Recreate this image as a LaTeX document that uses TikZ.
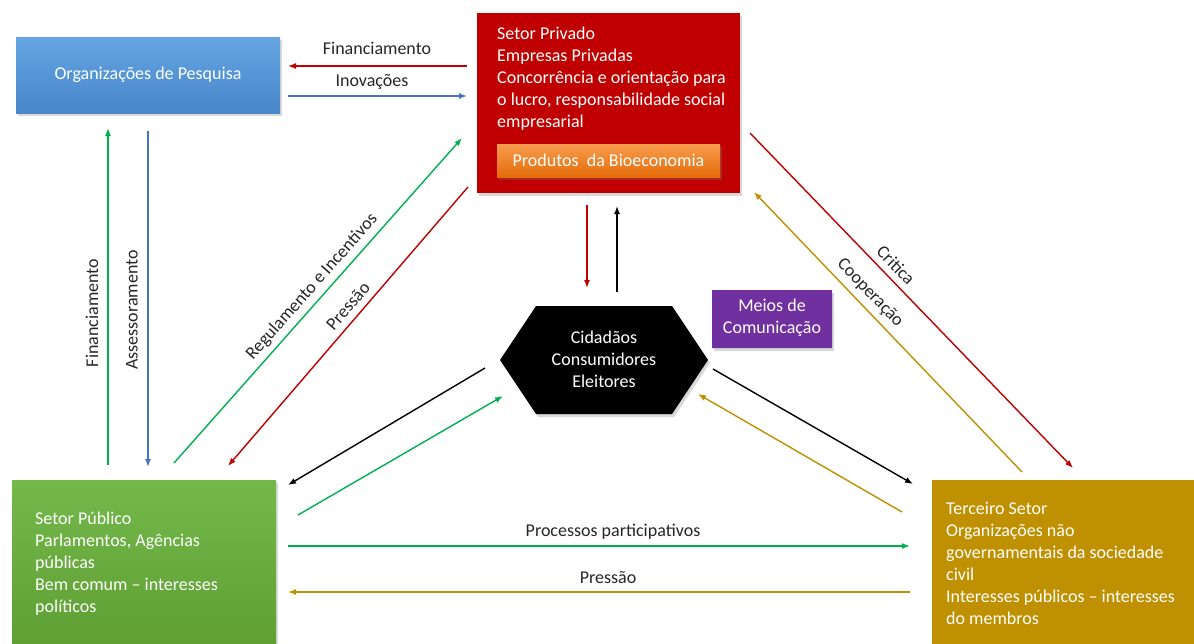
\documentclass[tikz,border=0pt]{standalone}
\usepackage{fontspec}
\setmainfont{Carlito}
\usetikzlibrary{arrows.meta,shadows,shapes.misc}

\definecolor{cred}{HTML}{C00000}
\definecolor{cgreen}{HTML}{00B050}
\definecolor{cblue}{HTML}{4472C4}
\definecolor{cgold}{HTML}{BF9000}
\definecolor{cpurple}{HTML}{7030A0}
\definecolor{lblc}{HTML}{262626}
\definecolor{bluetop}{HTML}{64A5E2}
\definecolor{bluebot}{HTML}{4986CA}
\definecolor{greentop}{HTML}{74B84A}
\definecolor{greenbot}{HTML}{5E9E34}
\definecolor{orangetop}{HTML}{F89C4E}
\definecolor{orangebot}{HTML}{E46C0A}

\begin{document}
\begin{tikzpicture}[x=1pt,y=-1pt,
  box/.style={draw=none, inner sep=0, rectangle,
    drop shadow={opacity=0.3, shadow xshift=2pt, shadow yshift=-3pt}},
  txt/.style={font=\fontsize{18}{22}\selectfont, text=white, inner sep=0, align=left},
  ctxt/.style={font=\fontsize{18}{22}\selectfont, text=white, align=center},
  lbl/.style={font=\fontsize{18}{22}\selectfont, text=lblc, inner sep=0},
  arr/.style={line width=1.4pt, -{Latex[length=8pt,width=6pt]}}]
\useasboundingbox (0,0) rectangle (1194,643);

% ---- boxes ----
\node[box, top color=bluetop, bottom color=bluebot, minimum width=264pt, minimum height=76pt,
      font=\fontsize{18}{22}\selectfont, text=white] (pesq) at (148,75) {Organizações de Pesquisa};

\node[box, fill=cred, minimum width=263pt, minimum height=180pt] (priv) at (608.5,103) {};
\node[txt, anchor=north west] (privtxt) at (497,27)
  {Setor Privado\\Empresas Privadas\\Concorrência e orientação para\\o lucro, responsabilidade social\\empresarial};
\node[box, top color=orangetop, bottom color=orangebot, minimum width=223pt, minimum height=33pt,
      font=\fontsize{18}{22}\selectfont, text=white] (prod) at (608.5,160.5) {Produtos~~da Bioeconomia};

\node[box, top color=greentop, bottom color=greenbot, minimum width=264pt, minimum height=172pt] (pub) at (144,566) {};
\node[txt, anchor=north west] (pubtxt) at (35,512)
  {Setor Público\\Parlamentos, Agências\\públicas\\Bem comum – interesses\\políticos};

\node[box, fill=cgold, minimum width=270pt, minimum height=172pt] (terc) at (1067,566) {};
\node[txt, anchor=north west] (terctxt) at (946,502)
  {Terceiro Setor\\Organizações não\\governamentais da sociedade\\civil\\Interesses públicos – interesses\\do membros};

\node[chamfered rectangle, chamfered rectangle corners={north east,north west},
      chamfered rectangle xsep=3pt, chamfered rectangle ysep=3pt,
      fill=cpurple, inner sep=0, minimum width=120pt, minimum height=58pt,
      drop shadow={opacity=0.3, shadow xshift=2pt, shadow yshift=-3pt}] (media) at (772,319) {};
\node[ctxt, inner sep=0] (mediatxt) at (772,318) {Meios de\\Comunicação};

% hexagon
\fill[black, drop shadow={opacity=0.3, shadow xshift=2pt, shadow yshift=-3pt}]
  (500,360) -- (536,306) -- (672,306) -- (708,360) -- (672,414) -- (536,414) -- cycle;
\node[ctxt, inner sep=0] (cid) at (604,359) {Cidadãos\\Consumidores\\Eleitores};

% ---- connector ends ----
\coordinate (a1s) at (467,66);   \coordinate (a1e) at (288,66);
\coordinate (a2s) at (288,96);   \coordinate (a2e) at (467,96);
\coordinate (a3s) at (108,465);  \coordinate (a3e) at (108,128);
\coordinate (a4s) at (148,131);  \coordinate (a4e) at (148,467);
\coordinate (a5s) at (174,463);  \coordinate (a5e) at (462,138);
\coordinate (a6s) at (468,187);  \coordinate (a6e) at (228,466);
\coordinate (a7s) at (485,368);  \coordinate (a7e) at (288,485);
\coordinate (a8s) at (298,515);  \coordinate (a8e) at (503,396);
\coordinate (a9s) at (587,205);  \coordinate (a9e) at (587,288);
\coordinate (a10s) at (617,292); \coordinate (a10e) at (617,206);
\coordinate (a11s) at (750,133); \coordinate (a11e) at (1073,468);
\coordinate (a12s) at (1022,472);\coordinate (a12e) at (754,192);
\coordinate (a13s) at (713,369); \coordinate (a13e) at (913,484);
\coordinate (a14s) at (902,512); \coordinate (a14e) at (698,394);
\coordinate (a15s) at (288,546); \coordinate (a15e) at (910,546);
\coordinate (a16s) at (910,592); \coordinate (a16e) at (288,592);

% ---- connectors ----
\draw[arr, cred]   (a1s) -- (a1e);
\draw[arr, cblue]  (a2s) -- (a2e);
\draw[arr, cgreen] (a3s) -- (a3e);
\draw[arr, cblue]  (a4s) -- (a4e);
\draw[arr, cgreen] (a5s) -- (a5e);
\draw[arr, cred]   (a6s) -- (a6e);
\draw[arr, black]  (a7s) -- (a7e);
\draw[arr, cgreen] (a8s) -- (a8e);
\draw[arr, cred]   (a9s) -- (a9e);
\draw[arr, black]  (a10s) -- (a10e);
\draw[arr, cred]   (a11s) -- (a11e);
\draw[arr, cgold]  (a12s) -- (a12e);
\draw[arr, black]  (a13s) -- (a13e);
\draw[arr, cgold]  (a14s) -- (a14e);
\draw[arr, cgreen] (a15s) -- (a15e);
\draw[arr, cgold]  (a16s) -- (a16e);

% ---- connector labels ----
\node[lbl] (l1) at (377,48) {Financiamento};
\node[lbl] (l2) at (372,82) {Inovações};
\node[lbl, rotate=90] (l3) at (92,313) {Financiamento};
\node[lbl, rotate=90] (l4) at (132,310) {Assessoramento};
\node[lbl, rotate=48.5] (l5) at (312,287) {Regulamento e Incentivos};
\node[lbl, rotate=49] (l6) at (348,306) {Pressão};
\node[lbl, rotate=-46] (l7) at (896,265) {Critica};
\node[lbl, rotate=-46] (l8) at (870,293) {Cooperação};
\node[lbl] (l9) at (613,532) {Processos participativos};
\node[lbl] (l10) at (608,578) {Pressão};
\end{tikzpicture}
\end{document}
